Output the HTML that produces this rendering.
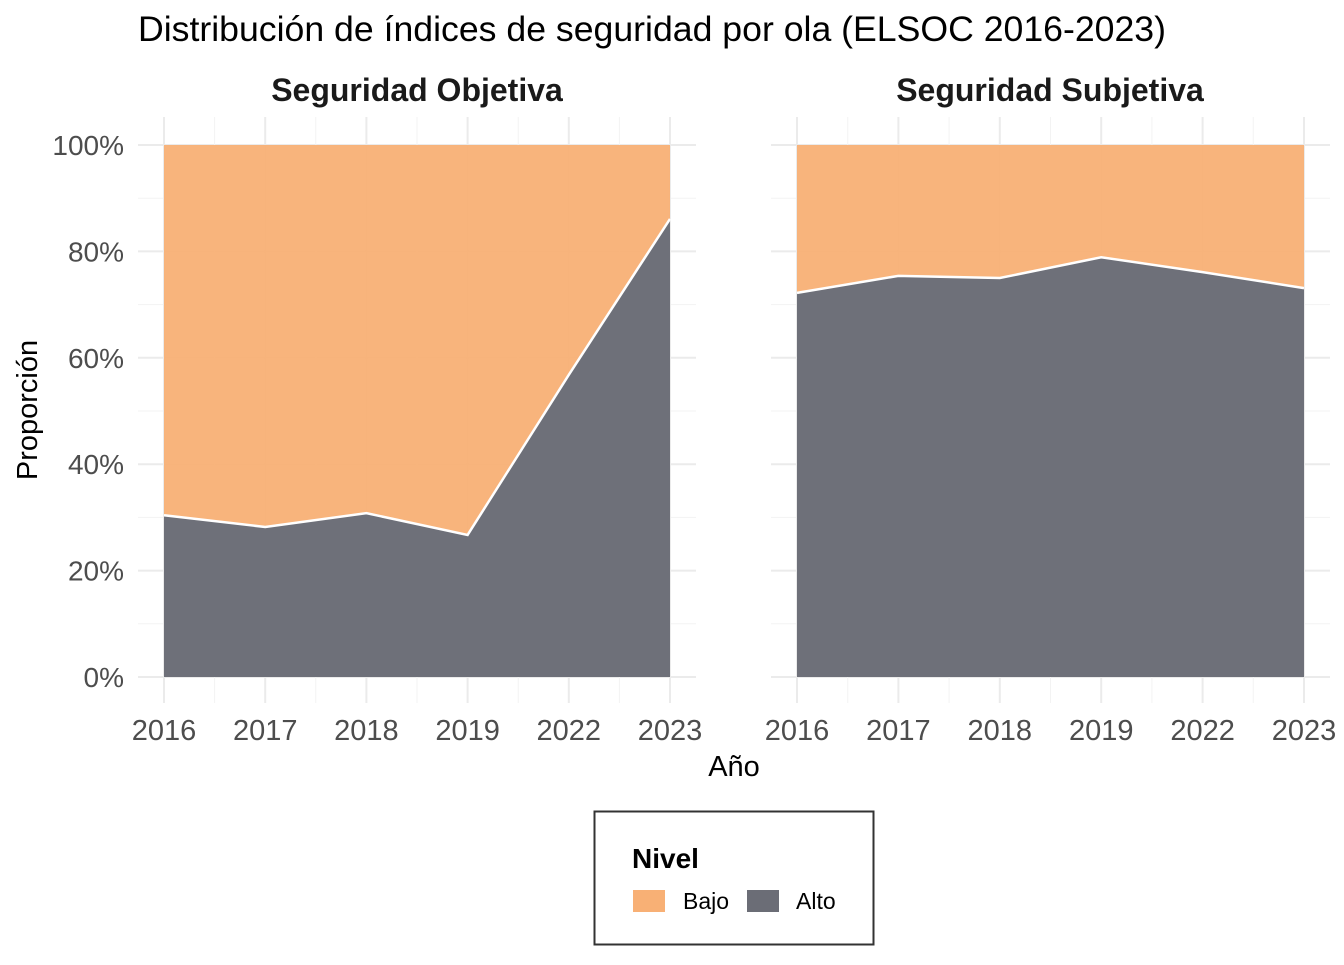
<!DOCTYPE html>
<html><head><meta charset="utf-8"><style>
body{margin:0;background:#fff;font-family:"Liberation Sans",sans-serif}
svg text{font-family:"Liberation Sans",sans-serif}
</style></head><body>
<svg id="c" width="1344" height="960" xmlns="http://www.w3.org/2000/svg">
<text x="138" y="41" font-size="35" textLength="1028" lengthAdjust="spacingAndGlyphs" fill="#000">Distribución de índices de seguridad por ola (ELSOC 2016-2023)</text>
<text x="417" y="101" font-size="32" font-weight="bold" text-anchor="middle" fill="#1a1a1a">Seguridad Objetiva</text>
<text x="1050" y="101" font-size="32" font-weight="bold" text-anchor="middle" fill="#1a1a1a">Seguridad Subjetiva</text>
<text x="734" y="776" font-size="29" text-anchor="middle" fill="#000">Año</text>
<text transform="translate(37,410) rotate(-90)" font-size="29" text-anchor="middle" fill="#000">Proporción</text>
<g id="panels"></g>
<g>
<rect x="594.5" y="811.5" width="279" height="133" fill="#fff" stroke="#333" stroke-width="2"/>
<text x="632" y="868" font-size="28" font-weight="bold">Nivel</text>
<rect x="633" y="890" width="32" height="22" fill="#F8B075"/>
<text x="683" y="909" font-size="23">Bajo</text>
<rect x="747" y="890" width="32" height="22" fill="#6B6D76"/>
<text x="796" y="909" font-size="23">Alto</text>
</g>
</svg>
<script>
const years=["2016","2017","2018","2019","2022","2023"];
const objetivaAlto=[0.304,0.282,0.308,0.267,0.568,0.861];
const subjetivaAlto=[0.722,0.754,0.750,0.789,0.761,0.731];
const yTicks=[0,0.2,0.4,0.6,0.8,1];
const yTickLabels=["0%","20%","40%","60%","80%","100%"];
const NS="http://www.w3.org/2000/svg";
const g=document.getElementById('panels');
function yS(v){return 677-v*532;}
function mk(t,a){const e=document.createElementNS(NS,t);for(const k in a)e.setAttribute(k,a[k]);g.appendChild(e);return e;}
function panel(x0,xEnd,left,vals,nm){
  const step=(xEnd-x0)/(years.length-1);
  const xS=i=>x0+i*step;
  const L=x0-26,R=xEnd+26;
  for(let i=0;i<yTicks.length;i++){
    let l=mk('line',{x1:L,x2:R,y1:yS(yTicks[i]),y2:yS(yTicks[i]),stroke:'#ebebeb','stroke-width':2});
    
    if(i<yTicks.length-1){let m=mk('line',{x1:L,x2:R,y1:yS(yTicks[i]+0.1),y2:yS(yTicks[i]+0.1),stroke:'#f3f3f3','stroke-width':1});
      }
    if(left){let t=mk('text',{x:124,y:yS(yTicks[i])+10,'font-size':28,fill:'#4d4d4d','text-anchor':'end'});t.textContent=yTickLabels[i];
      }
  }
  for(let i=0;i<years.length;i++){
    let l=mk('line',{x1:xS(i),x2:xS(i),y1:117,y2:703,stroke:'#ebebeb','stroke-width':2});
    
    if(i<years.length-1){let m=mk('line',{x1:xS(i+0.5),x2:xS(i+0.5),y1:117,y2:703,stroke:'#f3f3f3','stroke-width':1});
      }
    let t=mk('text',{x:xS(i),y:740,'font-size':29,fill:'#4d4d4d','text-anchor':'middle'});t.textContent=years[i];
    
  }
  let top=vals.map((v,i)=>xS(i)+','+yS(v)).join(' ');
  let bajo=mk('polygon',{points:xS(0)+','+yS(1)+' '+xS(years.length-1)+','+yS(1)+' '+vals.map((v,i)=>xS(i)+','+yS(v)).reverse().join(' '),fill:'#F8B075','fill-opacity':0.95});
  
  let alto=mk('polygon',{points:xS(0)+','+yS(0)+' '+top+' '+xS(years.length-1)+','+yS(0),fill:'#6B6D76','fill-opacity':0.98});
  
  let ln=mk('polyline',{points:top,fill:'none',stroke:'#fff','stroke-width':2.5});
  
}
panel(164,670,true,objetivaAlto,'objetiva');
panel(797,1304,false,subjetivaAlto,'subjetiva');
</script>
</body></html>
